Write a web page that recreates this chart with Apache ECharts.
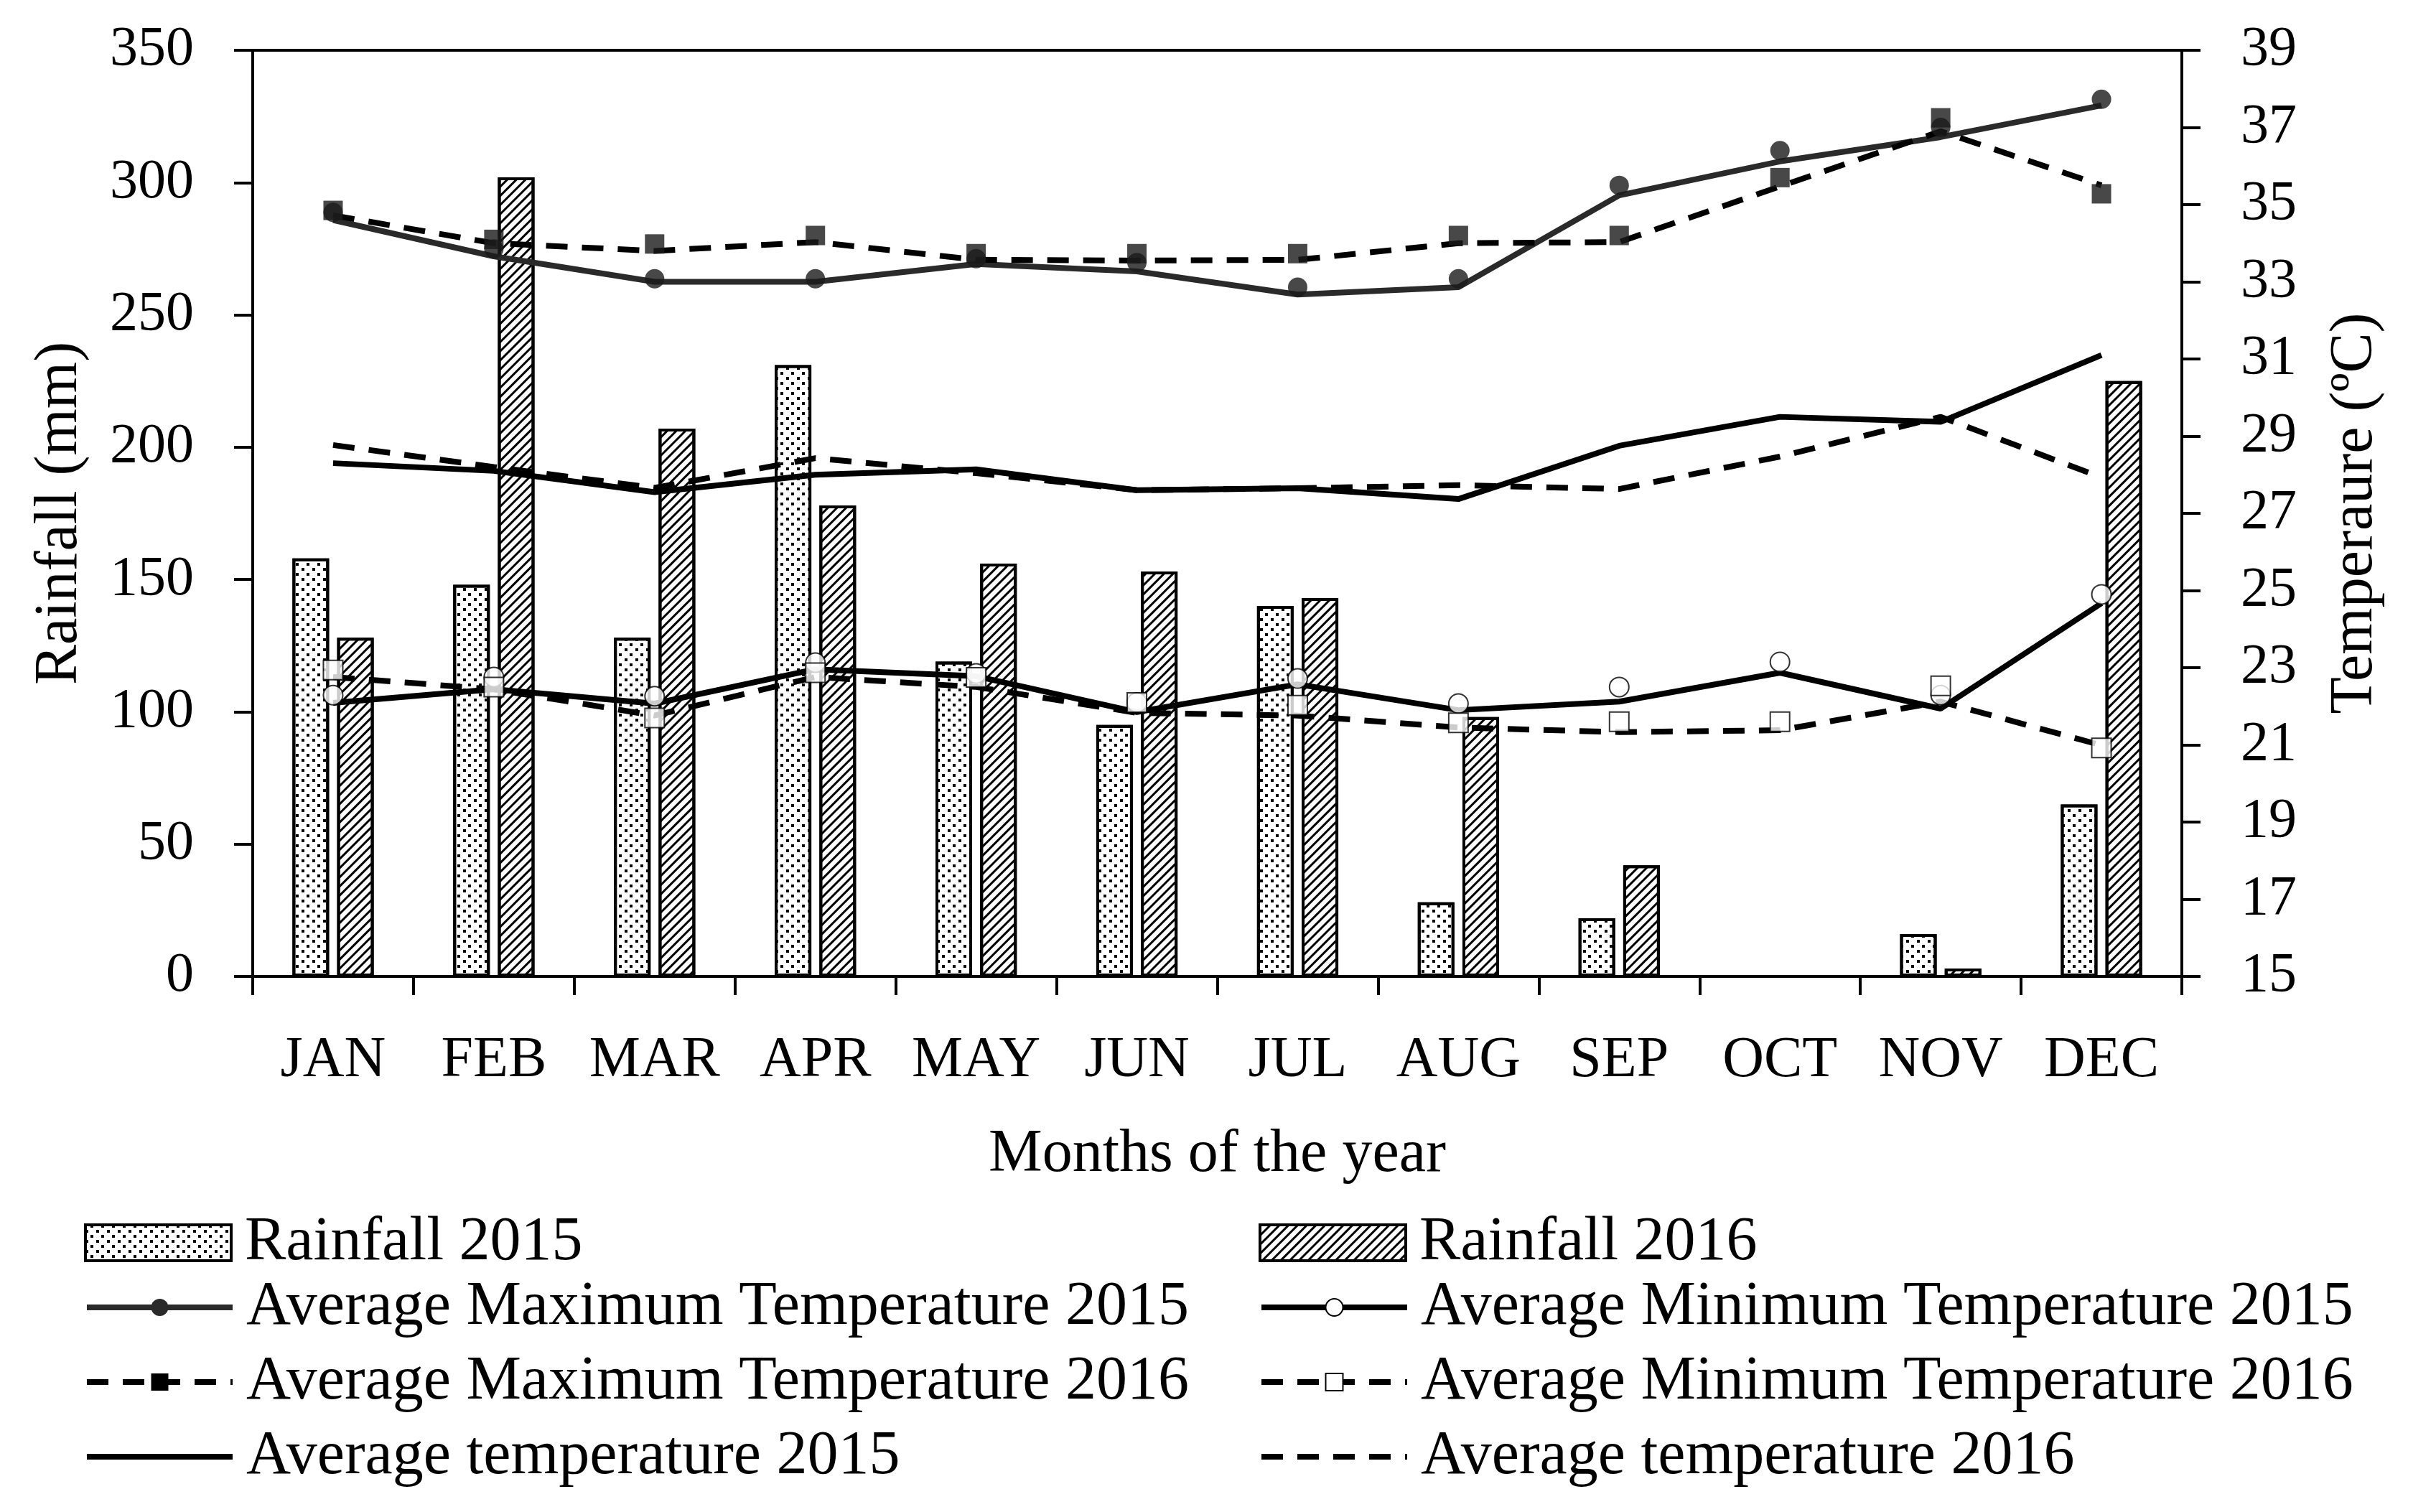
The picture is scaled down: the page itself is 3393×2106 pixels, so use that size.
<!DOCTYPE html>
<html>
<head>
<meta charset="utf-8">
<script src="https://cdn.jsdelivr.net/npm/echarts@6/dist/echarts.min.js"></script>
<style>
html, body { margin: 0; padding: 0; background: #fff; }
#chart { width: 3393px; height: 2106px; }
</style>
</head>
<body>
<div id="chart"></div>
<script>
// categories
var months = ['JAN', 'FEB', 'MAR', 'APR', 'MAY', 'JUN', 'JUL', 'AUG', 'SEP', 'OCT', 'NOV', 'DEC'];

// rainfall (mm), left axis
var rain2015 = [158, 148, 128, 231, 119, 95, 140, 28, 22, 0, 16, 65];
var rain2016 = [128, 302, 207, 178, 156, 153, 143, 98, 42, 0, 3, 225];

// temperature (ºC), right axis - lines
var max2015Line = [34.6, 33.66, 33.0, 33.0, 33.46, 33.27, 32.67, 32.86, 35.24, 36.12, 36.75, 37.57];
var max2016Line = [34.72, 34.0, 33.8, 34.03, 33.57, 33.55, 33.57, 34.0, 34.03, 35.47, 36.9, 35.5];
var avg2015 = [28.3, 28.1, 27.55, 28.0, 28.14, 27.6, 27.65, 27.37, 28.75, 29.5, 29.37, 31.1];
var avg2016 = [28.77, 28.2, 27.66, 28.43, 28.04, 27.6, 27.65, 27.73, 27.63, 28.47, 29.5, 27.93];
var min2015Line = [22.09, 22.44, 22.07, 22.96, 22.78, 21.85, 22.57, 21.9, 22.12, 22.87, 21.94, 24.67];
var min2016Line = [22.76, 22.44, 21.76, 22.76, 22.5, 21.83, 21.76, 21.45, 21.33, 21.38, 22.12, 20.99];

// temperature markers (plotted slightly off the lines in the original)
var max2015Pts = [34.8, 33.85, 33.08, 33.08, 33.6, 33.5, 32.86, 33.08, 35.5, 36.4, 37.0, 37.73];
var max2016Pts = [34.85, 34.1, 33.98, 34.2, 33.73, 33.73, 33.73, 34.2, 34.2, 35.7, 37.25, 35.28];
var min2015Pts = [22.29, 22.76, 22.26, 23.13, 22.85, 22.1, 22.72, 22.07, 22.5, 23.15, 22.29, 24.9];
var min2016Pts = [22.94, 22.5, 21.7, 22.87, 22.75, 22.1, 22.03, 21.57, 21.6, 21.6, 22.53, 20.92];

var rainTicks = [0, 350, 50];
var tempTicks = [15, 39, 2];

var chart = echarts.init(document.getElementById('chart'));
var font = 'Liberation Serif';
var dash = [30, 20];
var lineW = 8;

function tempLine(name, data, dashed, symbol, color) {
    return {
        name: name,
        type: 'line',
        yAxisIndex: 1,
        data: data,
        symbol: symbol,
        showSymbol: false,
        color: color,
        itemStyle: { color: color },
        lineStyle: { color: color, width: lineW, type: dashed ? dash : 'solid' },
        z: 3,
        silent: true
    };
}

function tempPoints(name, data, symbol) {
    var empty = symbol.indexOf('empty') === 0;
    return {
        name: name,
        type: 'scatter',
        yAxisIndex: 1,
        data: data,
        symbol: symbol,
        symbolSize: 27,
        itemStyle: empty ? { color: '#000', borderColor: '#000', borderWidth: 4 } : { color: '#1a1a1a' },
        z: 4,
        silent: true
    };
}

var dots = {
    symbol: 'rect',
    symbolSize: 1,
    color: '#000',
    dashArrayX: [[4, 11], [0, 7, 4, 4]],
    dashArrayY: [4, 3],
    rotation: 0
};
var hatch = {
    symbol: 'rect',
    symbolSize: 1,
    color: '#000',
    dashArrayX: [1, 0],
    dashArrayY: [3, 6],
    rotation: -Math.PI / 4
};

var legendText = { fontFamily: font, fontSize: 86, color: '#000', padding: [0, 0, 0, 14] };

function barLegend(name, left) {
    return {
        data: [name], left: left, top: 1688, padding: 0,
        itemWidth: 203, itemHeight: 50, icon: 'rect',
        itemStyle: { borderColor: '#000', borderWidth: 4 },
        textStyle: legendText
    };
}

function lineLegend(names, left) {
    return {
        orient: 'vertical', left: left, top: 1778, padding: 0,
        itemWidth: 203, itemHeight: 30, itemGap: 18,
        lineStyle: { width: lineW },
        data: names,
        textStyle: legendText
    };
}

var option = {
    backgroundColor: '#fff',
    animation: false,
    textStyle: { fontFamily: font, color: '#000' },
    grid: {
        left: 352, right: 354, top: 70, bottom: 746,
        show: true, borderColor: '#000', borderWidth: 4, backgroundColor: 'transparent'
    },
    legend: [
        barLegend('Rainfall 2015', 117),
        barLegend('Rainfall 2016', 1753),
        lineLegend(['Average Maximum Temperature 2015', 'Average Maximum Temperature 2016',
            { name: 'Average temperature 2015', itemStyle: { opacity: 0 } }], 117),
        lineLegend(['Average Minimum Temperature 2015', 'Average Minimum Temperature 2016',
            { name: 'Average temperature 2016', itemStyle: { opacity: 0 } }], 1753)
    ],
    xAxis: {
        type: 'category',
        data: months,
        boundaryGap: true,
        name: 'Months of the year',
        nameLocation: 'middle',
        nameGap: 207,
        nameTextStyle: { fontFamily: font, fontSize: 84, color: '#000' },
        axisLine: { lineStyle: { color: '#000', width: 4 } },
        axisTick: { show: true, inside: false, length: 26, lineStyle: { color: '#000', width: 4 } },
        axisLabel: { fontFamily: font, fontSize: 80, color: '#000', margin: 78, interval: 0 },
        splitLine: { show: false }
    },
    yAxis: [
        {
            type: 'value',
            min: rainTicks[0], max: rainTicks[1], interval: rainTicks[2],
            name: 'Rainfall (mm)',
            nameLocation: 'middle',
            nameRotate: 90,
            nameGap: 226,
            nameTextStyle: { fontFamily: font, fontSize: 84, color: '#000' },
            axisLine: { show: true, lineStyle: { color: '#000', width: 4 } },
            axisTick: { show: true, length: 26, lineStyle: { color: '#000', width: 4 } },
            axisLabel: { fontFamily: font, fontSize: 78, color: '#000', margin: 82 },
            splitLine: { show: false }
        },
        {
            type: 'value',
            position: 'right',
            min: tempTicks[0], max: tempTicks[1], interval: tempTicks[2],
            name: 'Temperaure (ºC)',
            nameLocation: 'middle',
            nameRotate: 90,
            nameGap: 200,
            nameTextStyle: { fontFamily: font, fontSize: 84, color: '#000' },
            axisLine: { show: true, lineStyle: { color: '#000', width: 4 } },
            axisTick: { show: true, length: 26, lineStyle: { color: '#000', width: 4 } },
            axisLabel: { fontFamily: font, fontSize: 78, color: '#000', margin: 82 },
            splitLine: { show: false }
        }
    ],
    series: [
        {
            name: 'Rainfall 2015', type: 'bar', data: rain2015,
            barWidth: 51, barGap: '22%',
            itemStyle: { color: '#fff', borderColor: '#000', borderWidth: 4, decal: dots },
            silent: true
        },
        {
            name: 'Rainfall 2016', type: 'bar', data: rain2016,
            barWidth: 51, barGap: '22%',
            itemStyle: { color: '#fff', borderColor: '#000', borderWidth: 4, decal: hatch },
            silent: true
        },
        tempLine('Average Maximum Temperature 2015', max2015Line, false, 'circle', '#2a2a2a'),
        tempLine('Average Maximum Temperature 2016', max2016Line, true, 'rect', '#000'),
        tempLine('Average temperature 2015', avg2015, false, 'none', '#000'),
        tempLine('Average temperature 2016', avg2016, true, 'none', '#000'),
        tempLine('Average Minimum Temperature 2015', min2015Line, false, 'emptyCircle', '#000'),
        tempLine('Average Minimum Temperature 2016', min2016Line, true, 'emptyRect', '#000'),
        tempPoints('max2015 points', max2015Pts, 'circle'),
        tempPoints('max2016 points', max2016Pts, 'rect'),
        tempPoints('min2015 points', min2015Pts, 'emptyCircle'),
        tempPoints('min2016 points', min2016Pts, 'emptyRect')
    ]
};

chart.setOption(option);
window.onresize = function () {
    chart.resize();
};
</script>
</body>
</html>
